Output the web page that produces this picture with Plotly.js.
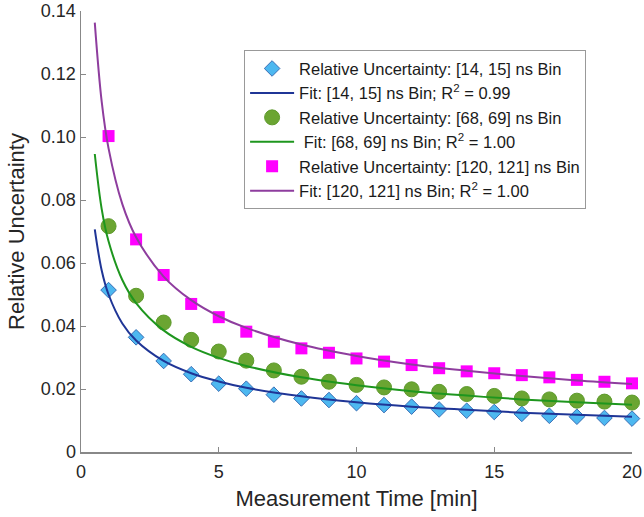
<!DOCTYPE html>
<html>
<head>
<meta charset="utf-8">
<script src="https://cdn.plot.ly/plotly-3.0.1.min.js"></script>
<style>html,body{margin:0;padding:0;background:#fff;}#chart{width:644px;height:517px;}</style>
</head>
<body>
<div id="chart"></div>
<script>
// Measurement times (min)
const times = [1,2,3,4,5,6,7,8,9,10,11,12,13,14,15,16,17,18,19,20];
// Relative uncertainty per bin
const bin14 = [0.0514,0.0364,0.0289,0.0247,0.0217,0.0201,0.0182,0.0170,0.0165,0.0155,0.0149,0.0144,0.0135,0.0131,0.0127,0.0121,0.0115,0.0112,0.0108,0.0106];
const bin68 = [0.0717,0.0496,0.0411,0.0356,0.0319,0.0290,0.0259,0.0239,0.0223,0.0213,0.0205,0.0199,0.0191,0.0184,0.0178,0.0170,0.0167,0.0163,0.0160,0.0157];
const bin120 = [0.1003,0.0675,0.0562,0.0470,0.0428,0.0382,0.0350,0.0329,0.0315,0.0297,0.0287,0.0276,0.0266,0.0256,0.0250,0.0244,0.0237,0.0229,0.0223,0.0218];
// Fit curves (sampled from the figure)
const fitT = [0.5,0.75,1,1.5,2,3,4,5,6,8,10,12,14,16,18,20];
const fit14 = [0.0707,0.0577,0.0500,0.0408,0.0354,0.0289,0.0250,0.0224,0.0204,0.0177,0.0158,0.0144,0.0134,0.0125,0.0118,0.0112];
const fit68 = [0.0946,0.0772,0.0669,0.0546,0.0473,0.0386,0.0334,0.0299,0.0273,0.0237,0.0212,0.0193,0.0179,0.0167,0.0158,0.0150];
const fit120 = [0.1363,0.1113,0.0964,0.0787,0.0682,0.0557,0.0482,0.0431,0.0394,0.0341,0.0305,0.0278,0.0258,0.0241,0.0227,0.0216];
const names = [
  'Relative Uncertainty: [14, 15] ns Bin',
  'Fit: [14, 15] ns Bin; R<sup>2</sup> = 0.99',
  'Relative Uncertainty: [68, 69] ns Bin',
  ' Fit: [68, 69] ns Bin; R<sup>2</sup> = 1.00',
  'Relative Uncertainty: [120, 121] ns Bin',
  'Fit: [120, 121] ns Bin; R<sup>2</sup> = 1.00'
];
const yTicks = [0,0.02,0.04,0.06,0.08,0.10,0.12,0.14];
const yTickText = ['0','0.02','0.04','0.06','0.08','0.10','0.12','0.14'];
const xTicks = [0,5,10,15,20];

const FAM = 'Arial, "Liberation Sans", sans-serif';
const traces = [
  {x: times, y: bin14, mode:'markers', name: names[0], cliponaxis:false,
   marker:{symbol:'diamond', size:12, color:'#4DB8F0', line:{color:'#3A6EB5', width:1}}},
  {x: fitT, y: fit14, mode:'lines', name: names[1], line:{color:'#1F3596', width:2, shape:'spline'}},
  {x: times, y: bin68, mode:'markers', name: names[2], cliponaxis:false,
   marker:{symbol:'circle', size:15, color:'#6BA532', line:{color:'#5E9A2C', width:1}}},
  {x: fitT, y: fit68, mode:'lines', name: names[3], line:{color:'#1E961E', width:2, shape:'spline'}},
  {x: times, y: bin120, mode:'markers', name: names[4], cliponaxis:false,
   marker:{symbol:'square', size:12, color:'#FF00FF', line:{width:0}}},
  {x: fitT, y: fit120, mode:'lines', name: names[5], line:{color:'#8E3D9E', width:2, shape:'spline'}}
];

const tickFont = {family:FAM, size:18, color:'#262626'};
const titleFont = {family:FAM, size:22, color:'#262626'};
const layout = {
  width:644, height:517,
  margin:{l:81, r:12, t:11, b:65},
  paper_bgcolor:'#fff', plot_bgcolor:'#fff',
  font: tickFont,
  showlegend:true,
  legend:{x:0.296, y:0.911, xanchor:'left', yanchor:'top',
    bgcolor:'#fff', bordercolor:'#999', borderwidth:1, itemwidth:44,
    font:{family:FAM, size:16.5, color:'#1a1a1a'}},
  xaxis:{range:[0,20], tickvals:xTicks, ticks:'inside', ticklen:5, tickcolor:'#888',
    showline:true, linecolor:'#888', linewidth:1.5, showgrid:false, zeroline:false,
    tickfont:tickFont, automargin:'bottom', ticklabelstandoff:3,
    title:{text:'Measurement Time [min]', font:titleFont, standoff:9}},
  yaxis:{range:[0,0.14], tickvals:yTicks, ticktext:yTickText, ticks:'inside', ticklen:5, tickcolor:'#888',
    showline:true, linecolor:'#888', linewidth:1.5, showgrid:false, zeroline:false,
    tickfont:tickFont, automargin:'left',
    title:{text:'Relative Uncertainty', font:titleFont, standoff:10}}
};
Plotly.newPlot('chart', traces, layout, {staticPlot:true, displayModeBar:false});
</script>
</body>
</html>
